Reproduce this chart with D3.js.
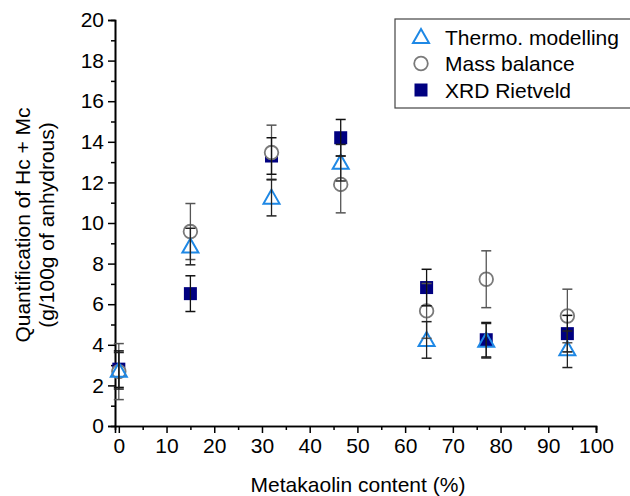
<!DOCTYPE html>
<html>
<head>
<meta charset="utf-8">
<script src="https://cdn.jsdelivr.net/npm/d3@7"></script>
<style>
    body { margin: 0; background: #fff; }
    text { font-family: Arial, "Liberation Sans", sans-serif; fill: #000; }
</style>
</head>
<body>
<script>
let metakaolin = [0, 15, 32, 46.5, 64.5, 77, 94];

let thermoValues = [2.72, 8.84, 11.25, 12.97, 4.24, 4.2, 3.78];
let thermoErrors = [0.9, 0.9, 0.9, 0.9, 0.9, 0.85, 0.9];

let massValues = [2.68, 9.58, 13.47, 11.9, 5.67, 7.23, 5.42];
let massErrors = [1.38, 1.38, 1.35, 1.4, 1.35, 1.4, 1.32];

let xrdValues = [2.8, 6.52, 13.3, 14.2, 6.82, 4.25, 4.55];
let xrdErrors = [0.9, 0.88, 0.9, 0.9, 0.9, 0.85, 0.9];

let seriesNames = ["Thermo. modelling", "Mass balance", "XRD Rietveld"];

let xTicks = [0, 10, 20, 30, 40, 50, 60, 70, 80, 90, 100];
let yTicks = [0, 2, 4, 6, 8, 10, 12, 14, 16, 18, 20];

let svgWidth = 630,
    svgHeight = 496,
    plot = {left: 115, right: 596, top: 20, bottom: 426},
    fontSize = 21;

let svgContainer = d3.select("body").append("svg")
    .attr("width", svgWidth)
    .attr("height", svgHeight);

let xScale = d3.scaleLinear().domain([-0.8, 100]).range([plot.left, plot.right]);
let yScale = d3.scaleLinear().domain([0, 20]).range([plot.bottom, plot.top]);

function drawAxes() {
    // minor ticks first
    let xMinor = d3.axisBottom(xScale).tickValues(d3.range(5, 100, 10)).tickSize(4).tickFormat("");
    let yMinor = d3.axisLeft(yScale).tickValues(d3.range(1, 20, 2)).tickSize(4).tickFormat("");

    let xAxis = d3.axisBottom(xScale).tickValues(xTicks).tickSize(7).tickPadding(5).tickFormat(d3.format("d"));
    let yAxis = d3.axisLeft(yScale).tickValues(yTicks).tickSize(7).tickPadding(4).tickFormat(d3.format("d"));

    [xMinor, xAxis].forEach(a => {
        svgContainer.append("g")
            .attr("class", "axis")
            .attr("transform", "translate(0," + plot.bottom + ")")
            .call(a);
    });
    [yMinor, yAxis].forEach(a => {
        svgContainer.append("g")
            .attr("class", "axis")
            .attr("transform", "translate(" + plot.left + ",0)")
            .call(a);
    });

    svgContainer.selectAll(".axis path").attr("stroke", "#000").attr("stroke-width", 1.6);
    svgContainer.selectAll(".axis line").attr("stroke", "#000").attr("stroke-width", 1.5);
    svgContainer.selectAll(".axis text")
        .attr("font-size", fontSize)
        .style("font-family", "Arial, 'Liberation Sans', sans-serif");
}

function drawTitles() {
    svgContainer.append("text")
        .attr("x", 358)
        .attr("y", 492)
        .attr("text-anchor", "middle")
        .attr("font-size", fontSize)
        .text("Metakaolin content (%)");

    let yTitle = ["Quantification of Hc + Mc", "(g/100g of anhydrous)"];
    yTitle.forEach((t, i) => {
        svgContainer.append("text")
            .attr("transform", "translate(" + (30 + i * 24) + ",225) rotate(-90)")
            .attr("text-anchor", "middle")
            .attr("font-size", fontSize)
            .text(t);
    });
}

function drawErrorBars(values, errors, color) {
    let g = svgContainer.append("g");
    values.forEach((v, i) => {
        let x = xScale(metakaolin[i]);
        let y1 = yScale(v + errors[i]);
        let y2 = yScale(v - errors[i]);
        g.append("line").attr("x1", x).attr("x2", x).attr("y1", y1).attr("y2", y2)
            .attr("stroke", color).attr("stroke-width", 1.3);
        [y1, y2].forEach(y => {
            g.append("line").attr("x1", x - 5).attr("x2", x + 5).attr("y1", y).attr("y2", y)
                .attr("stroke", color).attr("stroke-width", 1.5);
        });
    });
}

function squareMarker(g, x, y) {
    g.append("rect")
        .attr("x", x - 6.5).attr("y", y - 6.5)
        .attr("width", 13).attr("height", 13)
        .attr("fill", "#000080");
}

function circleMarker(g, x, y) {
    g.append("circle")
        .attr("cx", x).attr("cy", y).attr("r", 6.8)
        .attr("fill", "#fff")
        .attr("stroke", "#7a7a7a")
        .attr("stroke-width", 1.8);
}

function triangleMarker(g, x, y) {
    g.append("path")
        .attr("d", "M" + x + "," + (y - 8) + " L" + (x + 8) + "," + (y + 6) + " L" + (x - 8) + "," + (y + 6) + " Z")
        .attr("fill", "none")
        .attr("stroke", "#1e88e5")
        .attr("stroke-width", 2);
}

function drawSeries(values, marker) {
    let g = svgContainer.append("g");
    values.forEach((v, i) => {
        marker(g, xScale(metakaolin[i]), yScale(v));
    });
}

function drawLegend() {
    let g = svgContainer.append("g");
    g.append("rect")
        .attr("x", 395).attr("y", 19)
        .attr("width", 250).attr("height", 89)
        .attr("fill", "#fff")
        .attr("stroke", "#444")
        .attr("stroke-width", 1.2);
    let markers = [triangleMarker, circleMarker, squareMarker];
    seriesNames.forEach((name, i) => {
        let y = 37 + i * 26.5;
        markers[i](g, 421, y);
        g.append("text")
            .attr("x", 445)
            .attr("y", y)
            .attr("dy", "0.36em")
            .attr("font-size", fontSize)
            .text(name);
    });
}

drawAxes();
drawTitles();
drawSeries(xrdValues, squareMarker);
drawSeries(massValues, circleMarker);
drawSeries(thermoValues, triangleMarker);
drawErrorBars(massValues, massErrors, "#555");
drawErrorBars(xrdValues, xrdErrors, "#111");
drawErrorBars(thermoValues, thermoErrors, "#222");
drawLegend();
</script>
</body>
</html>
